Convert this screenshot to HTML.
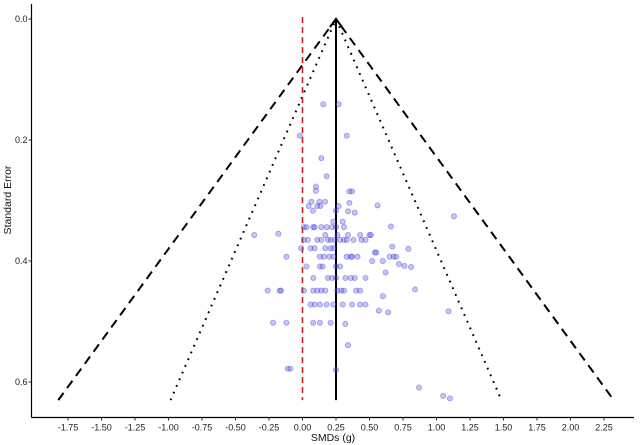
<!DOCTYPE html>
<html><head><meta charset="utf-8"><style>
body{margin:0;background:#fff}
svg{display:block;font-family:"Liberation Sans",Arial,sans-serif}
</style></head><body>
<svg id="chart" width="640" height="445">
<g id="axes"></g>
<g id="funnel"></g>
<g id="points"></g>
</svg>
<script>
const pooledEstimate = 0.25;
const maxSE = 0.63;
const zOuter = 3.29;
const zInner = 1.96;
const xTicks = [-1.75,-1.5,-1.25,-1,-0.75,-0.5,-0.25,0,0.25,0.5,0.75,1,1.25,1.5,1.75,2,2.25];
const xTickLabels = ["-1.75","-1.50","-1.25","-1.00","-0.75","-0.50","-0.25","0.00","0.25","0.50","0.75","1.00","1.25","1.50","1.75","2.00","2.25"];
const yTicks = [0,0.2,0.4,0.6];
const yTickLabels = ["0.0","0.2","0.4","0.6"];
const effects = [0.14,0.18,0.10,0.10,0.35,0.37,0.066,0.126,0.168,0.046,0.11,0.133,0.078,0.35,0.56,0.27,0.25,0.34,0.39,0.23,0.30,-0.36,-0.18,
0.01,0.03,0.08,0.09,0.14,0.18,0.22,0.25,0.31,0.66,
0.17,0.26,0.34,0.43,0.50,0.51,
0.01,0.04,0.11,0.14,0.19,0.21,0.24,0.28,0.31,0.33,0.38,0.44,0.47,0.67,0.79,
-0.01,0.06,0.09,0.17,0.21,0.23,0.54,0.55,-0.12,
0.13,0.16,0.20,0.23,0.33,0.36,0.37,0.41,0.65,0.68,0.70,0.52,0.60,
0.03,0.13,0.15,0.25,0.28,0.72,0.76,0.81,0.62,
0.08,0.19,0.22,0.25,0.32,0.36,0.39,0.47,0.84,
-0.26,-0.17,-0.16,0.01,0.08,0.11,0.14,0.17,0.26,0.29,0.31,0.40,0.43,0.60,
0.06,0.09,0.13,0.18,0.23,0.30,0.37,0.43,0.47,0.57,0.64,
-0.22,-0.12,0.08,0.13,0.21,0.32,
0.155,0.27,-0.02,0.33,1.13,1.09,0.34,-0.11,-0.09,0.25,0.87,1.05,1.10];
const stdErrors = [0.23,0.26,0.277,0.284,0.285,0.285,0.302,0.302,0.302,0.309,0.309,0.309,0.317,0.304,0.308,0.309,0.317,0.318,0.32,0.335,0.335,0.357,0.355,
0.344,0.344,0.344,0.344,0.344,0.344,0.344,0.344,0.344,0.343,
0.357,0.357,0.357,0.357,0.357,0.357,
0.365,0.365,0.365,0.365,0.365,0.365,0.365,0.365,0.365,0.365,0.365,0.365,0.365,0.376,0.38,
0.379,0.379,0.379,0.379,0.379,0.379,0.386,0.386,0.393,
0.393,0.393,0.393,0.393,0.393,0.393,0.393,0.393,0.393,0.393,0.393,0.40,0.40,
0.409,0.409,0.409,0.409,0.409,0.405,0.408,0.41,0.419,
0.428,0.428,0.428,0.428,0.428,0.428,0.428,0.428,0.447,
0.449,0.449,0.449,0.449,0.449,0.449,0.449,0.449,0.449,0.449,0.449,0.449,0.449,0.458,
0.472,0.472,0.472,0.472,0.472,0.472,0.472,0.472,0.472,0.482,0.485,
0.502,0.502,0.502,0.502,0.502,0.504,
0.141,0.141,0.193,0.193,0.326,0.483,0.539,0.578,0.578,0.58,0.609,0.623,0.627];

const NS="http://www.w3.org/2000/svg";
const X0=302.5, XS=134, Y0=19, YS=605;
const xs=v=>X0+v*XS, ys=v=>Y0+v*YS;
function mk(tag,attrs,parent,text){const e=document.createElementNS(NS,tag);for(const k in attrs)e.setAttribute(k,attrs[k]);if(text!=null)e.textContent=text;parent.appendChild(e);return e;}
const axes=document.getElementById('axes'), funnel=document.getElementById('funnel'), pts=document.getElementById('points');
const axisY=417.5, axisX=31.5;
let e;
e=mk('line',{x1:axisX,y1:axisY,x2:634,y2:axisY,stroke:'#000','stroke-width':1.2},axes);


e=mk('line',{x1:axisX,y1:4,x2:axisX,y2:axisY,stroke:'#000','stroke-width':1.2},axes);


xTicks.forEach((t,i)=>{
 mk('line',{x1:xs(t),y1:axisY,x2:xs(t),y2:axisY+3,stroke:'#000','stroke-width':0.8},axes);
 e=mk('text',{x:xs(t),y:axisY+13,'font-size':9,'text-anchor':'middle',fill:'#222'},axes,xTickLabels[i]);
 
 
});
yTicks.forEach((t,i)=>{
 mk('line',{x1:axisX-3,y1:ys(t),x2:axisX,y2:ys(t),stroke:'#000','stroke-width':0.8},axes);
 e=mk('text',{x:axisX-4,y:ys(t)+3,'font-size':9,'text-anchor':'end',fill:'#222'},axes,yTickLabels[i]);
 
 
});
e=mk('text',{x:333,y:441,'font-size':10.5,'text-anchor':'middle',fill:'#111'},axes,'SMDs (g)');


e=mk('text',{x:11,y:200,'font-size':10.5,'text-anchor':'middle',fill:'#111',transform:'rotate(-90 11 200)'},axes,'Standard Error');



function fl(z,dash,w,name){
 e=mk('polyline',{points:`${xs(pooledEstimate-z*maxSE)},${ys(maxSE)} ${xs(pooledEstimate)},${ys(0)} ${xs(pooledEstimate+z*maxSE)},${ys(maxSE)}`,fill:'none',stroke:'#000','stroke-width':w,'stroke-dasharray':dash},funnel);
 
 
}
fl(zOuter,'9,6',2,'outer-funnel-dashed');
fl(zInner,'1.8,5.5',2,'inner-funnel-dotted');
e=mk('line',{x1:xs(0),y1:ys(-0.003),x2:xs(0),y2:ys(maxSE),stroke:'#c81e1e','stroke-width':1.6,'stroke-dasharray':'6,4'},funnel);


e=mk('line',{x1:xs(pooledEstimate),y1:ys(maxSE),x2:xs(pooledEstimate),y2:ys(0)+1,stroke:'#000','stroke-width':2},funnel);


e=mk('polyline',{points:`${xs(pooledEstimate)-6},${ys(0)+8} ${xs(pooledEstimate)},${ys(0)} ${xs(pooledEstimate)+6},${ys(0)+8}`,fill:'none',stroke:'#000','stroke-width':2},funnel);



effects.forEach((v,i)=>{
 e=mk('circle',{cx:xs(v),cy:ys(stdErrors[i]),r:2.6,fill:'rgba(90,90,230,0.35)',stroke:'rgba(60,60,210,0.45)','stroke-width':0.8},pts);
 
 
});
</script>
</body></html>
